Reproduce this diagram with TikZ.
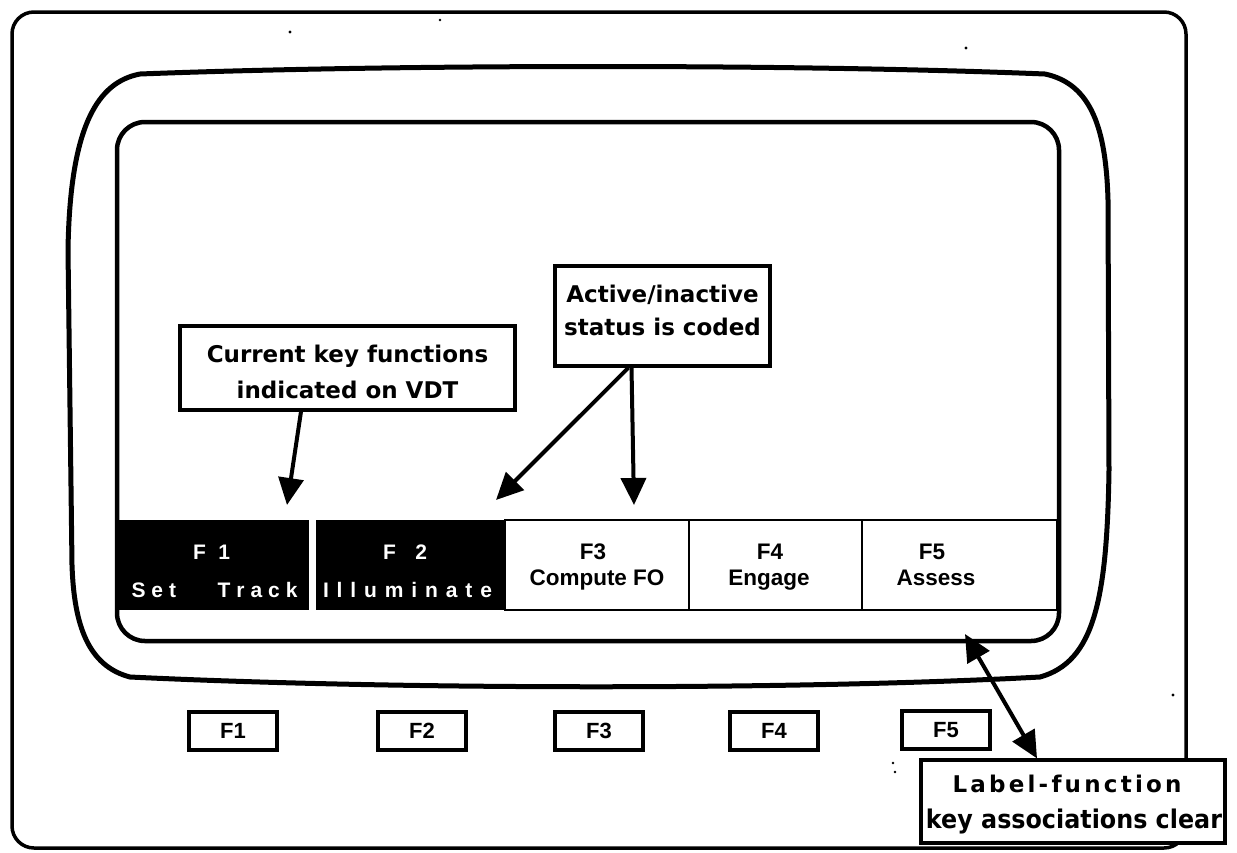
\documentclass[tikz,border=0pt]{standalone}
\usepackage{fontspec}
\usepackage{graphicx}
\setmainfont{DejaVu Sans}
\newfontfamily\callf{DejaVu Sans Bold}
\newfontfamily\arialbf{Liberation Sans Bold}
\usetikzlibrary{arrows.meta}

\begin{document}
\begin{tikzpicture}[x=1pt,y=-1pt,
  frame/.style={line width=3.5pt},
  bezel/.style={line width=5pt},
  screen/.style={line width=4.5pt, rounded corners=28pt},
  cell/.style={line width=2.6pt},
  callout/.style={draw, line width=3.2pt, fill=white, inner sep=0pt},
  calltext/.style={font=\callf\fontsize{23}{23}\selectfont, anchor=base, inner sep=0pt},
  pointer/.style={line width=4pt, -{Triangle[length=27pt,width=25pt]}},
  twoway/.style={line width=4pt, {Triangle[length=27pt,width=25pt]}-{Triangle[length=27pt,width=25pt]}},
  keycap/.style={draw, line width=3.2pt, minimum width=88pt, minimum height=38pt, inner sep=0pt,
                 font=\arialbf\fontsize{22}{22}\selectfont},
  softlbl/.style={white, font=\arialbf\fontsize{21}{21}\selectfont, anchor=base, inner sep=0pt},
  celltext/.style={font=\arialbf\fontsize{22.5}{22.5}\selectfont, anchor=base, inner sep=0pt},
  speck/.style={fill=black}
]
\useasboundingbox (0,0) rectangle (1237,852);

% terminal housing
\draw[frame, rounded corners=22pt] (12,12) rectangle (1186,848);

% display bezel
\draw[bezel] (140,74) .. controls (400,64) and (800,64) .. (1045,74)
  .. controls (1092,84) and (1106,130) .. (1108,200)
  -- (1109,470)
  .. controls (1107,600) and (1094,662) .. (1040,677)
  .. controls (800,690) and (400,690) .. (130,677)
  .. controls (88,666) and (74,625) .. (72,565)
  -- (68,250)
  .. controls (70,125) and (98,82) .. (140,74) -- cycle;

% screen
\draw[screen] (117,122) rectangle (1059,641);

% soft-key label row
\fill (115,520) rectangle (309,610);
\fill (316,520) rectangle (505,610);
\draw[cell] (505,520) rectangle (689,610);
\draw[cell] (689,520) rectangle (862,610);
\draw[cell] (862,520) rectangle (1057,610);

\node[softlbl] (f1top) at (211.5,559) {\makebox[37pt][s]{F\hfil 1}};
\node[softlbl] (f1bot) at (214.5,597) {\makebox[166pt][s]{S\hfil e\hfil t\hfil\hfil\hfil\hfil\hfil\hfil\hfil T\hfil r\hfil a\hfil c\hfil k}};
\node[softlbl] (f2top) at (405,559) {\makebox[44pt][s]{F\hfil 2}};
\node[softlbl] (f2bot) at (407.5,597) {\makebox[169pt][s]{I\hfil l\hfil l\hfil u\hfil m\hfil i\hfil n\hfil a\hfil t\hfil e}};

\node[celltext] (f3top) at (593,559) {F3};
\node[celltext] (f3bot) at (597,585) {Compute FO};
\node[celltext] (f4top) at (770,559) {F4};
\node[celltext] (f4bot) at (769,585) {Engage};
\node[celltext] (f5top) at (932,559) {F5};
\node[celltext] (f5bot) at (936,585) {Assess};

% callout: current functions
\node[callout, minimum width=335pt, minimum height=84pt] (cur) at (347.5,368) {};
\node[calltext] (cur1) at (347.5,362) {Current\hspace{0.35em}key\hspace{0.35em}functions};
\node[calltext] (cur2) at (347.5,398) {indicated on VDT};

% callout: active / inactive
\node[callout, minimum width=215pt, minimum height=100pt] (act) at (662.5,316) {};
\node[calltext] (act1) at (662.5,302) {Active/inactive};
\node[calltext] (act2) at (662.5,335) {status is coded};

% pointers to the label row
\coordinate (t1) at (287,505);
\coordinate (t2) at (496,500);
\coordinate (t3) at (634,505);
\draw[pointer] ([xshift=-46.5pt]cur.south) -- (t1);
\draw[pointer] ([xshift=-34pt]act.south) -- (t2);
\draw[pointer] ([xshift=-31pt]act.south) -- (t3);

% hardware function keys
\node[keycap] (k1) at (233,731) {F1};
\node[keycap] (k2) at (422,731) {F2};
\node[keycap] (k3) at (599,731) {F3};
\node[keycap] (k4) at (774,731) {F4};
\node[keycap] (k5) at (946,730) {F5};

% callout: label-key association
\node[callout, minimum width=304pt, minimum height=83pt] (lab) at (1073,801.5) {};
\node[calltext] (lab1) at (1067,792) {\makebox[229pt][s]{L\hfil a\hfil b\hfil e\hfil l\hfil -\hfil f\hfil u\hfil n\hfil c\hfil t\hfil i\hfil o\hfil n}};
\node[calltext] (lab2) at (1074,828) {\resizebox{296pt}{!}{\scalebox{1}[1.08]{key associations clear}}};

\coordinate (t4) at (965,634);
\draw[twoway] (t4) -- ([xshift=-36pt]lab.north);

% specks
\fill[speck] (290,32) circle (1.6);
\fill[speck] (440,20) circle (1.4);
\fill[speck] (966,48) circle (1.6);
\fill[speck] (1173,695) circle (1.6);
\fill[speck] (893,763) circle (1.3);
\fill[speck] (895,772) circle (1.3);
\end{tikzpicture}
\end{document}
